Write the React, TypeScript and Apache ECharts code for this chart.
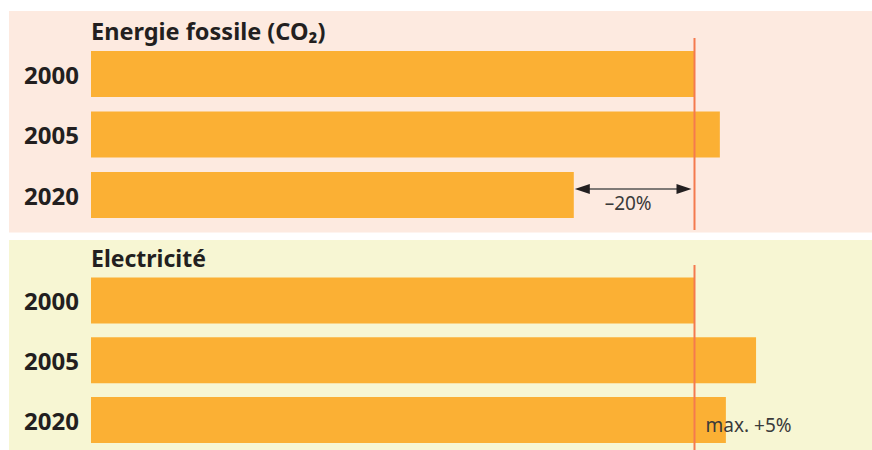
import React, { useEffect, useRef } from "react";
import * as echarts from "echarts";

const categories = ["2000", "2005", "2020"];
const fossilValues = [100, 104.2, 80];
const electricityValues = [100, 110.2, 105.2];
const referenceValue = 100;
const fossilTarget = 80;
const panelTitles = ["Energie fossile (CO₂)", "Electricité"];
const fossilChangeLabel = "–20%";
const electricityLimitLabel = "max. +5%";

const BAR = "#fbb034";
const TEXT = "#231f20";
const RED = "#f47a4e";
const FONT = "'Noto Sans', 'Open Sans', sans-serif";

export default function App() {
  const ref = useRef<HTMLDivElement>(null);
  useEffect(() => {
    document.body.style.margin = "0";
    const chart = echarts.init(ref.current!, undefined, { renderer: "svg" });
    const yAxisBase = {
      type: "category" as const,
      data: categories,
      inverse: true,
      axisLine: { show: false },
      axisTick: { show: false },
      axisLabel: {
        fontSize: 24,
        fontWeight: "bold" as const,
        color: TEXT,
        fontFamily: FONT,
        margin: 12,
        padding: [5, 0, 0, 0],
      },
    };
    const xAxisBase = { type: "value" as const, min: 0, max: 120, show: false };
    chart.setOption({
      animation: false,
      grid: [
        { left: 91, top: 43.75, width: 724.2, height: 181.5 },
        { left: 91, top: 270.5, width: 724.2, height: 182.5 },
      ],
      xAxis: [
        { ...xAxisBase, gridIndex: 0 },
        { ...xAxisBase, gridIndex: 1 },
      ],
      yAxis: [
        { ...yAxisBase, gridIndex: 0 },
        { ...yAxisBase, gridIndex: 1 },
      ],
      series: [
        {
          type: "bar",
          xAxisIndex: 0,
          yAxisIndex: 0,
          data: fossilValues,
          barWidth: 46,
          itemStyle: { color: BAR },
          silent: true,
          z: 2,
        },
        {
          type: "bar",
          xAxisIndex: 1,
          yAxisIndex: 1,
          data: electricityValues,
          barWidth: 46,
          itemStyle: { color: BAR },
          silent: true,
          z: 2,
        },
      ],
    });

    const p0 = (v: number, c: string) => chart.convertToPixel({ gridIndex: 0 }, [v, c]) as number[];
    const p1 = (v: number, c: string) => chart.convertToPixel({ gridIndex: 1 }, [v, c]) as number[];
    const xRefTop = p0(referenceValue, "2000")[0];
    const xRefBot = p1(referenceValue, "2000")[0];
    const xTarget = p0(fossilTarget, "2020")[0];
    const yArrow = p0(fossilTarget, "2020")[1] - 6;
    const yBot2020 = p1(referenceValue, "2020")[1];

    const arrowColor = "#231f20";
    chart.setOption({
      graphic: [
        { type: "rect", z: -10, silent: true, shape: { x: 9, y: 11, width: 863, height: 221.5 }, style: { fill: "#fdeae0" } },
        { type: "rect", z: -10, silent: true, shape: { x: 9, y: 240, width: 863, height: 210 }, style: { fill: "#f7f6d3" } },
        {
          type: "text", z: 5, x: 91, y: 31,
          style: { text: panelTitles[0], fontSize: 23.5, fontWeight: "bold", fontFamily: FONT, fill: TEXT, verticalAlign: "middle", align: "left" },
        },
        {
          type: "text", z: 5, x: 91, y: 257.5,
          style: { text: panelTitles[1], fontSize: 23, fontWeight: "bold", fontFamily: FONT, fill: TEXT, verticalAlign: "middle", align: "left" },
        },
        { type: "line", z: 10, silent: true, shape: { x1: xRefTop, y1: 38, x2: xRefTop, y2: 230 }, style: { stroke: RED, lineWidth: 2 } },
        { type: "line", z: 10, silent: true, shape: { x1: xRefBot, y1: 265, x2: xRefBot, y2: 450 }, style: { stroke: RED, lineWidth: 2 } },
        { type: "line", z: 10, silent: true, shape: { x1: xTarget + 8, y1: yArrow, x2: xRefTop - 8, y2: yArrow }, style: { stroke: "#555555", lineWidth: 1.5 } },
        {
          type: "polygon", z: 10, silent: true,
          shape: { points: [[xTarget + 1, yArrow], [xTarget + 16, yArrow - 5], [xTarget + 16, yArrow + 5]] },
          style: { fill: arrowColor },
        },
        {
          type: "polygon", z: 10, silent: true,
          shape: { points: [[xRefTop - 3, yArrow], [xRefTop - 18, yArrow - 5], [xRefTop - 18, yArrow + 5]] },
          style: { fill: arrowColor },
        },
        {
          type: "text", z: 10, x: (xTarget + xRefTop) / 2 - 6, y: yArrow + 14,
          style: { text: fossilChangeLabel, fontSize: 19, fontFamily: FONT, fill: "#3a3a3a", align: "center", verticalAlign: "middle" },
        },
        {
          type: "text", z: 10, x: xRefBot + 11, y: yBot2020 + 5,
          style: { text: electricityLimitLabel, fontSize: 19, fontFamily: FONT, fill: "#3a3a3a", align: "left", verticalAlign: "middle" },
        },
      ],
    });
    return () => chart.dispose();
  }, []);
  return <div ref={ref} style={{ width: 872, height: 450 }} />;
}
